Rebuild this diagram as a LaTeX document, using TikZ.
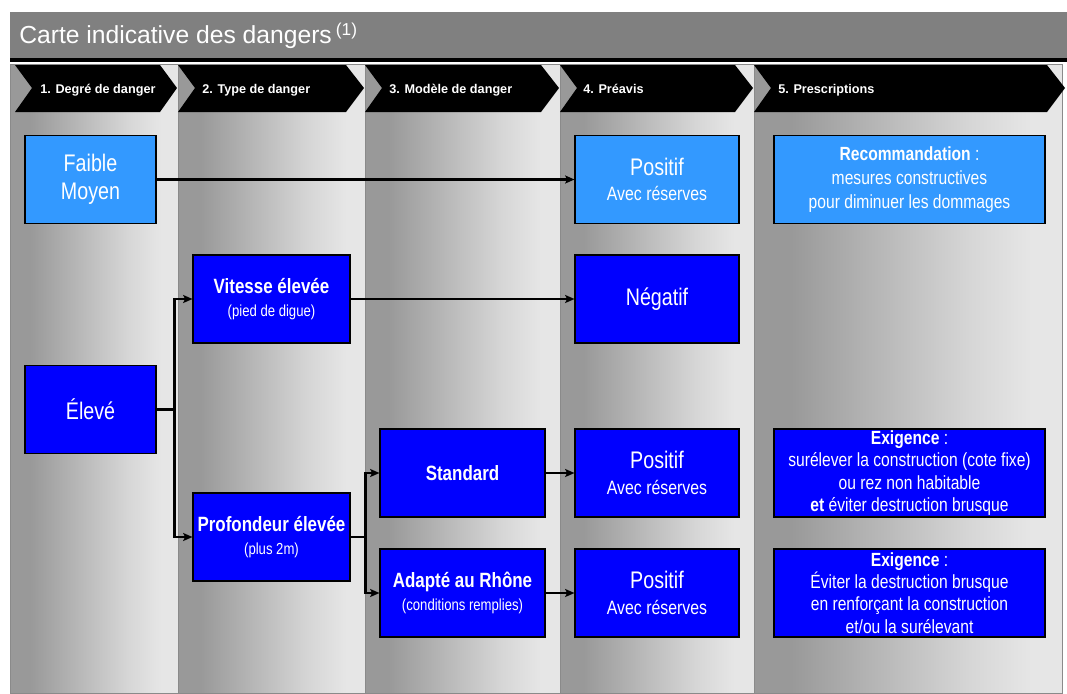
\documentclass[tikz,border=0pt]{standalone}
\usepackage{fontspec}
\setmainfont{Liberation Sans}
\newfontfamily\boxfont[FakeStretch=0.82]{Liberation Sans}
\usetikzlibrary{arrows.meta}

\definecolor{barGray}{HTML}{808080}
\definecolor{lightBox}{HTML}{3399FF}
\definecolor{darkBox}{HTML}{0000FF}
\definecolor{colA}{HTML}{999999}
\definecolor{colB}{HTML}{D6D6D6}
\definecolor{colC}{HTML}{E6E6E6}
\definecolor{colEdge}{HTML}{8A8A8A}
\pgfdeclarehorizontalshading{colshade}{100bp}{color(0bp)=(colA); color(25bp)=(colA); color(31bp)=(colA); color(60bp)=(colB); color(70bp)=(colC); color(100bp)=(colC)}

% node fonts (base of each box) and line fonts
\newcommand\fmain{\boxfont\fontsize{18}{21}\selectfont}
\newcommand\ftwo{\boxfont\fontsize{14.5}{19}\selectfont}
\newcommand\fsmall{\boxfont\fontsize{12}{17.5}\selectfont}
\newcommand\frule{\boxfont\fontsize{14.3}{18}\selectfont}
\newcommand\fexig{\boxfont\fontsize{14.3}{16.7}\selectfont}
\newcommand\szmain{\fontsize{18}{21}\selectfont}
\newcommand\szbold{\bfseries\fontsize{15.5}{18}\selectfont}

\tikzset{
  box/.style={draw=black, line width=0.8pt, text=white, inner sep=0pt,
    minimum height=66pt, align=center, font=\fmain},
  faint/.style={box, fill=lightBox},
  strong/.style={box, fill=darkBox},
  conn/.style={line width=2.2pt, -{Stealth[length=7pt,width=6pt,inset=1.5pt]}},
  hd/.style={anchor=base west, text=white, inner sep=0pt,
    font=\bfseries\fontsize{9.5}{10}\selectfont},
}

\begin{document}
\begin{tikzpicture}[x=0.75pt,y=-0.75pt]
  \useasboundingbox (0,0) rectangle (1067,693);

  % title bar
  \fill[barGray] (10,12) rectangle (1067,58);
  \fill[black] (10,58) rectangle (1067,61.5);
  \node[anchor=west, text=white, inner sep=0pt, font=\fontsize{18.5}{20}\selectfont]
    (title) at (19,36) {Carte indicative des dangers\,\textsuperscript{(1)}};

  % columns
  \shadedraw[shading=colshade, draw=colEdge, line width=0.6pt] (10,64) rectangle (178,693);
  \shadedraw[shading=colshade, draw=colEdge, line width=0.6pt] (178,64) rectangle (365,693);
  \shadedraw[shading=colshade, draw=colEdge, line width=0.6pt] (365,64) rectangle (560,693);
  \shadedraw[shading=colshade, draw=colEdge, line width=0.6pt] (560,64) rectangle (754,693);
  \shadedraw[shading=colshade, draw=colEdge, line width=0.6pt] (754,64) rectangle (1062,693);

  % headers
  \fill[black] (15,65) -- (160,65) -- (177,88) -- (160,112) -- (15,112) -- (32,88) -- cycle;
  \fill[black] (178,65) -- (346,65) -- (364,88) -- (346,112) -- (178,112) -- (195,88) -- cycle;
  \fill[black] (365,65) -- (541,65) -- (559,88) -- (541,112) -- (365,112) -- (382,88) -- cycle;
  \fill[black] (560,65) -- (735,65) -- (753,88) -- (735,112) -- (560,112) -- (577,88) -- cycle;
  \fill[black] (754,65) -- (1047,65) -- (1065,88) -- (1047,112) -- (754,112) -- (771,88) -- cycle;
  \node[hd] (h1) at (40,93) {1. Degré de danger};
  \node[hd] (h2) at (202,93) {2. Type de danger};
  \node[hd] (h3) at (389,93) {3. Modèle de danger};
  \node[hd] (h4) at (583,93) {4. Préavis};
  \node[hd] (h5) at (778,93) {5. Prescriptions};

  % boxes
  \node[faint, minimum width=98.25pt] (faible) at (90.5,179.5) {Faible\\Moyen};
  \node[strong, minimum width=98.25pt] (eleve) at (90.5,409.5) {Élevé};
  \node[strong, minimum width=117.75pt, font=\fsmall] (vitesse) at (271.5,299)
    {{\szbold Vitesse élevée}\\(pied de digue)};
  \node[strong, minimum width=117.75pt, font=\fsmall] (profondeur) at (271.5,537)
    {{\szbold Profondeur élevée}\\(plus 2m)};
  \node[strong, minimum width=123.75pt] (standard) at (462.5,473) {\szbold Standard};
  \node[strong, minimum width=123.75pt, font=\fsmall] (adapte) at (462.5,593)
    {{\szbold Adapté au Rhône}\\(conditions remplies)};
  \node[faint, minimum width=123pt, font=\ftwo] (positifA) at (657,179.5)
    {{\szmain Positif}\\Avec réserves};
  \node[strong, minimum width=123pt] (negatif) at (657,299) {Négatif};
  \node[strong, minimum width=123pt, font=\ftwo] (positifB) at (657,473)
    {{\szmain Positif}\\Avec réserves};
  \node[strong, minimum width=123pt, font=\ftwo] (positifC) at (657,593)
    {{\szmain Positif}\\Avec réserves};
  \node[faint, minimum width=203.25pt, font=\frule] (recomm) at (909.5,179.5)
    {\textbf{Recommandation} :\\mesures constructives\\pour diminuer les dommages};
  \node[strong, minimum width=203.25pt, font=\fexig] (exigA) at (909.5,473)
    {\textbf{Exigence} :\\surélever la construction (cote fixe)\\ou rez non habitable\\\textbf{et} éviter destruction brusque};
  \node[strong, minimum width=203.25pt, font=\fexig] (exigB) at (909.5,593)
    {\textbf{Exigence} :\\Éviter la destruction brusque\\en renforçant la construction\\et/ou la surélevant};

  % connectors
  \draw[conn] (faible) -- (positifA);
  \draw[conn] (vitesse) -- (negatif);
  \draw[conn] (eleve.east) -- ++(18,0) coordinate (split1) |- (vitesse.west);
  \draw[conn] (split1) |- (profondeur.west);
  \draw[conn] (profondeur.east) -- ++(15,0) coordinate (split2) |- (standard.west);
  \draw[conn] (split2) |- (adapte.west);
  \draw[conn] (standard) -- (positifB);
  \draw[conn] (adapte) -- (positifC);
\end{tikzpicture}
\end{document}
